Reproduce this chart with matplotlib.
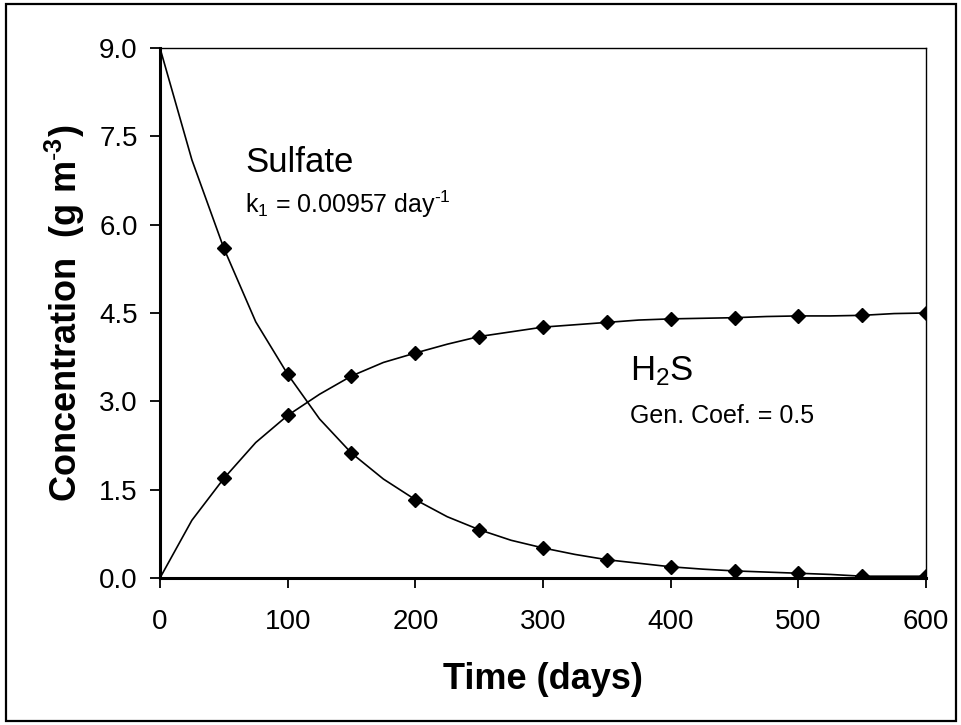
import matplotlib.pyplot as plt
from matplotlib.patches import Rectangle

plt.rcParams['font.family'] = 'Liberation Sans'
plt.rcParams['mathtext.fontset'] = 'custom'
plt.rcParams['mathtext.rm'] = 'Liberation Sans'
plt.rcParams['mathtext.it'] = 'Liberation Sans'
plt.rcParams['mathtext.bf'] = 'Liberation Sans:bold'

# model output, every 25 days
days_line = [0, 25, 50, 75, 100, 125, 150, 175, 200, 225, 250, 275, 300,
             325, 350, 375, 400, 425, 450, 475, 500, 525, 550, 575, 600]
sulfate_line = [9.0, 7.1, 5.6, 4.35, 3.46, 2.7, 2.12, 1.68, 1.33, 1.04, 0.82, 0.64, 0.51,
                0.40, 0.31, 0.25, 0.19, 0.15, 0.12, 0.10, 0.08, 0.06, 0.03, 0.03, 0.03]
h2s_line = [0.0, 0.98, 1.69, 2.3, 2.76, 3.12, 3.43, 3.66, 3.82, 3.97, 4.10, 4.18, 4.26,
            4.30, 4.34, 4.38, 4.40, 4.41, 4.42, 4.44, 4.45, 4.45, 4.46, 4.49, 4.50]

# sampled points (diamonds)
days_pts = [50, 100, 150, 200, 250, 300, 350, 400, 450, 500, 550, 600]
sulfate_pts = [5.6, 3.46, 2.12, 1.33, 0.82, 0.51, 0.31, 0.19, 0.12, 0.08, 0.03, 0.03]
h2s_pts = [1.69, 2.76, 3.43, 3.82, 4.10, 4.26, 4.34, 4.40, 4.42, 4.45, 4.46, 4.50]

yticks = [0, 1.5, 3.0, 4.5, 6.0, 7.5, 9.0]

fig = plt.figure(figsize=(9.62, 7.25), dpi=100)
ax = fig.add_axes([0.1663, 0.2028, 0.7963, 0.731])

ax.plot(days_line, sulfate_line, color='black', lw=1.2)
ax.plot(days_line, h2s_line, color='black', lw=1.2)
ax.plot(days_pts, sulfate_pts, 'D', color='black', ms=7.5)
ax.plot(days_pts, h2s_pts, 'D', color='black', ms=7.5)

ax.set_xlim(0, 600)
ax.set_ylim(0, 9)
ax.set_xticks(range(0, 601, 100))
ax.set_yticks(yticks)
ax.set_yticklabels(['%.1f' % v for v in yticks])
ax.tick_params(direction='out', length=7, width=1.3, labelsize=20)
ax.tick_params(axis='x', pad=15)
ax.tick_params(axis='y', pad=9)

for side in ['left', 'bottom']:
    ax.spines[side].set_linewidth(2.2)
for side in ['top', 'right']:
    ax.spines[side].set_linewidth(1.0)

ax.set_xlabel('Time (days)', fontsize=26, fontweight='bold', labelpad=20)
ax.set_ylabel(r'Concentration  (g m$^{\mathbf{\text{-}3}}$)', fontsize=26,
              fontweight='bold', labelpad=9)

ax.text(66.5, 6.9, 'Sulfate', fontsize=25)
ax.text(66.5, 6.2, r'k$_1$ = 0.00957 day$^{\text{-}1}$', fontsize=18)
ax.text(368, 3.36, r'H$_2$S', fontsize=25)
ax.text(368, 2.63, 'Gen. Coef. = 0.5', fontsize=18)

# frame round the whole figure
fig.patches.append(Rectangle((0.006, 0.006), 0.988, 0.988, transform=fig.transFigure,
                             fill=False, edgecolor='black', lw=1.6))

fig.savefig('out.png', dpi=100)
